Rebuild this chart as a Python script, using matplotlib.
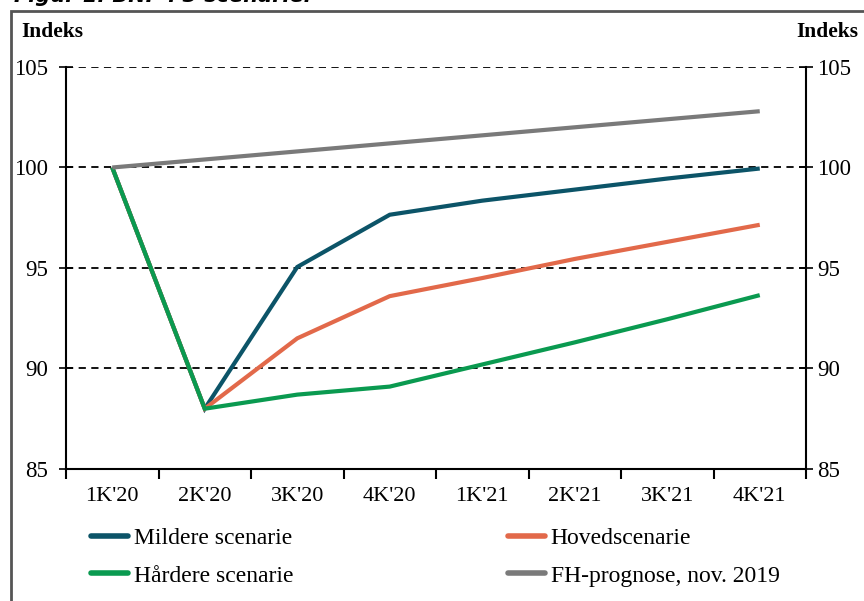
import matplotlib
matplotlib.use("Agg")
import matplotlib.pyplot as plt
import matplotlib.transforms as mtransforms
from matplotlib.lines import Line2D
from matplotlib.patches import Rectangle

categories = ["1K'20", "2K'20", "3K'20", "4K'20", "1K'21", "2K'21", "3K'21", "4K'21"]
mildere = [100.0, 88.0, 95.05, 97.65, 98.35, 98.9, 99.45, 99.95]
hoved = [100.0, 88.0, 91.5, 93.6, 94.5, 95.45, 96.3, 97.15]
haardere = [100.0, 88.0, 88.7, 89.1, 90.2, 91.3, 92.45, 93.65]
fh = [100.0, 100.4, 100.8, 101.2, 101.6, 102.0, 102.4, 102.8]
series_names = ["Mildere scenarie", "Hovedscenarie", "Hårdere scenarie", "FH-prognose, nov. 2019"]
yticks = [85, 90, 95, 100, 105]

colors = ["#0C5468", "#E2694A", "#0A9A50", "#7A7A7A"]

plt.rcParams['font.family'] = ['Liberation Serif', 'DejaVu Serif']

fig = plt.figure(figsize=(8.64, 6.01), dpi=100)
ax = fig.add_axes([66/864, 1-469/601, (806-66)/864, (469-67)/601])

x = list(range(len(categories)))
for vals, c, name in zip([mildere, hoved, haardere, fh], colors, series_names):
    ax.plot(x, vals, color=c, lw=3.0, label=name, solid_capstyle='butt', solid_joinstyle='miter')

ax.set_xlim(-0.5, len(categories) - 0.5)
ax.set_ylim(85, 105)
ax.set_yticks(yticks)
ax.set_yticklabels([str(v) for v in yticks], fontsize=16.5)
ax.set_xticks([i - 0.5 for i in range(len(categories) + 1)])
ax.set_xticklabels([])
ax.set_xticks(x, minor=True)
ax.set_xticklabels(categories, minor=True, fontsize=16)
ax.tick_params(axis='x', which='minor', length=0, pad=13)
ax.tick_params(axis='x', which='major', direction='out', length=7, width=1.5, color='black')
ax.tick_params(axis='y', direction='inout', length=10, width=1.2, pad=3, left=True, right=True,
               labelleft=True, labelright=True)
shift = mtransforms.ScaledTranslation(-7/100, 0, fig.dpi_scale_trans)
for t in ax.yaxis.get_major_ticks():
    t.label1.set_transform(t.label1.get_transform() + shift)
for v in yticks[1:]:
    ax.axhline(v, color='black', lw=1.3, ls=(0, (4, 3)), zorder=0)
ax.spines['top'].set_visible(False)
for side in ['left', 'right', 'bottom']:
    ax.spines[side].set_linewidth(1.5)

fig.text(21/864, 1 - 32/601, "Indeks", ha='left', va='center', fontsize=15.5, fontweight='bold')
fig.text(858/864, 1 - 32/601, "Indeks", ha='right', va='center', fontsize=15.5, fontweight='bold')

handles = [Line2D([0], [0], color=c, lw=4, solid_capstyle='round') for c in colors]
leg = fig.legend([handles[i] for i in [0, 2, 1, 3]], [series_names[i] for i in [0, 2, 1, 3]],
                 ncol=2, loc='center left', bbox_to_anchor=(70/864, 1 - 557/601),
                 frameon=False, fontsize=17, handlelength=1.55, handletextpad=0.25,
                 columnspacing=9.1, labelspacing=0.68)

# outer frame
fig.patches.append(Rectangle((11/864, -0.05), 1.1, 1 - 11/601 + 0.05, transform=fig.transFigure,
                             fill=False, lw=2, edgecolor='#555555'))
fig.text(14/864, 1 + 4/601, "Figur 1. BNP i 3 scenarier", fontsize=15, fontweight='bold',
         style='italic', family=['DejaVu Sans'], va='center', ha='left')

fig.savefig("out.png", dpi=100)
